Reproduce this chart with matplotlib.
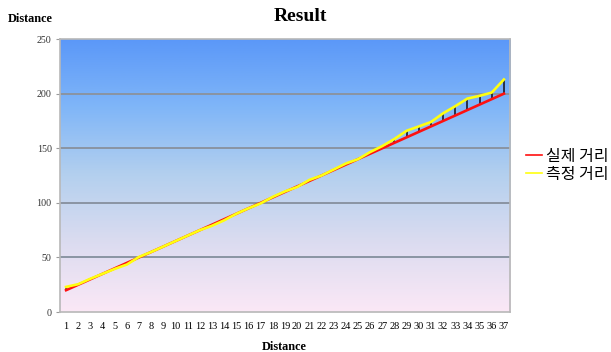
import numpy as np
import matplotlib
matplotlib.use("Agg")
from matplotlib import pyplot as plt
from matplotlib.colors import LinearSegmentedColormap

# point index along the run
points = list(range(1, 38))
# actual distance for each point
actual = [20, 25, 30, 35, 40, 45, 50, 55, 60, 65, 70, 75, 80, 85, 90, 95, 100,
          105, 110, 115, 120, 125, 130, 135, 140, 145, 150, 155, 160, 165, 170,
          175, 180, 185, 190, 195, 200]
# measured distance for each point
measured = [23, 25.5, 30.5, 35, 39.5, 43.5, 50.5, 55, 60, 65, 70, 75, 79, 84,
            90, 95, 99.5, 105.5, 110.5, 114.5, 121, 125, 130.5, 136, 140,
            146.5, 152, 158.5, 166, 170, 174, 182, 188.5, 195.5, 198, 201, 213]
y_ticks = [0, 50, 100, 150, 200, 250]

serif = "Liberation Serif"
korean = ["Noto Sans CJK KR", "DejaVu Sans"]


def main():
    fig = plt.figure(figsize=(6.11, 3.52), dpi=100)
    ax = fig.add_axes([0.0982, 0.1136, 0.7365, 0.7754])

    # vertical blue-to-pink wash behind the plot
    cmap = LinearSegmentedColormap.from_list(
        "wash", ["#fbe8f6", "#dcdcf0", "#b4d0ee", "#80b6f8", "#5b98f8"])
    grad = np.linspace(0, 1, 256).reshape(-1, 1)
    ax.imshow(grad, cmap=cmap, origin="lower", aspect="auto",
              extent=[0, 1, 0, 1], transform=ax.transAxes, zorder=0)

    n = len(points)
    x = np.arange(n)
    ax.set_xlim(-0.5, n - 0.5)
    ax.set_ylim(0, 250)

    for v in y_ticks[1:-1]:
        ax.axhline(v, color="#8a94a2", lw=1.4, zorder=1)

    # high-low lines between the two series
    ax.vlines(x, actual, measured, color="#1a1a2a", lw=1.2, zorder=2)
    ax.plot(x, actual, color="#ff1010", lw=1.9, zorder=3, label="실제 거리")
    ax.plot(x, measured, color="#ffff10", lw=1.9, zorder=4, label="측정 거리")

    ax.set_xticks(x)
    ax.set_xticklabels([str(p) for p in points], fontfamily=serif, fontsize=7.4)
    ax.set_yticks(y_ticks)
    ax.set_yticklabels([str(v) for v in y_ticks], fontfamily=serif, fontsize=7.2,
                       color="#333333")
    ax.tick_params(axis="x", length=0, pad=7)
    ax.tick_params(axis="y", length=3, color="#9a9a9a", pad=3)
    for side in ax.spines.values():
        side.set_color("#b8b8b8")
        side.set_linewidth(1.2)

    fig.text(0.491, 0.952, "Result", ha="center", va="center",
             fontfamily=serif, fontweight="bold", fontsize=14)
    fig.text(0.050, 0.946, "Distance", ha="center", va="center",
             fontfamily=serif, fontweight="bold", fontsize=8.8)
    fig.text(0.466, 0.013, "Distance", ha="center", va="center",
             fontfamily=serif, fontweight="bold", fontsize=8.8)

    leg = fig.legend(loc="center left", bbox_to_anchor=(0.842, 0.53),
                     frameon=False, handlelength=1.0, handletextpad=0.25,
                     labelspacing=0.05, borderpad=0.2,
                     prop={"family": korean, "size": 11.5})
    for h in leg.get_lines():
        h.set_linewidth(1.2)

    fig.savefig("out.png", dpi=100)
    return 0


if __name__ == "__main__":
    main()
